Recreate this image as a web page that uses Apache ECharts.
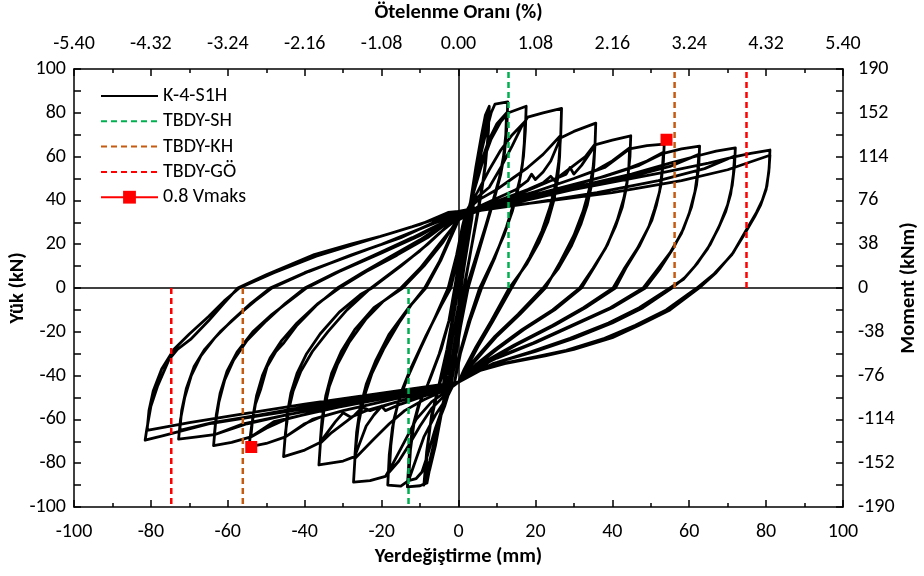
<!DOCTYPE html>
<html>
<head>
<meta charset="utf-8">
<script src="https://cdn.jsdelivr.net/npm/echarts@6/dist/echarts.min.js"></script>
<style>html,body{margin:0;padding:0;background:#fff}#c{width:924px;height:576px}</style>
</head>
<body>
<div id="c"></div>
<script>
// ---- tick labels ----
const dispTicks = ['-100','-80','-60','-40','-20','0','20','40','60','80','100'];
const driftLabels = ['-5.40','-4.32','-3.24','-2.16','-1.08','0.00','1.08','2.16','3.24','4.32','5.40'];
const loadLabels = ['-100','-80','-60','-40','-20','0','20','40','60','80','100'];
const momentLabels = ['-190','-152','-114','-76','-38','0','38','76','114','152','190'];

// ---- hysteresis cycles of K-4-S1H (displacement mm, load kN) ----
const loopA = [[0,0],[1.5,15],[3,30],[4,40],[3.5,32],[1.5,10],[0,-8],[-1.5,-22],[-3,-38],[-4,-46],[-3.5,-36],[-1.5,-14],[0,2]];
const loopB = [[1.5,20],[3,38],[4.5,55],[6,70],[7,79],[8,83],[7.8,72],[7.2,60],[6.3,48],[5,35],[3.5,20],[2,5],[0.5,-10],[-1,-25],[-2.5,-40],[-3.5,-48],[-4.5,-58],[-6,-72],[-7.5,-83],[-9,-90],[-8.3,-75],[-7.3,-62],[-5.8,-50],[-4,-38],[-2,-20],[0,0],[1.5,18],[3,36]];
const loopC = [[4.5,50],[6,64],[7,74],[7.8,80],[7.6,68],[7,56],[6,44],[4.8,32],[3.2,17],[1.6,2],[0,-14],[-1.5,-30],[-3,-45],[-4.5,-56],[-6,-68],[-7.5,-79],[-8.6,-86],[-8,-72],[-7,-58],[-5.2,-45],[-3,-28],[-1,-8],[0.5,10],[2,28],[3.5,40]];
const loopD = [[5,55],[7,70],[8.5,80],[9.5,84],[12.8,85],[12.6,74],[12,62],[11,52],[9.5,42],[7.5,30],[5,15],[2.5,0],[0.5,-18],[-1,-35],[-2,-45],[-3.6,-54],[-5.4,-62],[-7,-78],[-8.2,-89],[-10,-90.3],[-13.3,-90.8],[-12.8,-76],[-12,-64],[-10.5,-54],[-8,-44],[-5,-30],[-2.5,-15],[-1,0],[0.5,16],[2,32]];
const loopE = [[4,45],[6,58],[8,68],[10,75],[12.5,80],[12.3,70],[11.7,60],[10.6,50],[9,40],[7,28],[4.5,14],[2,0],[0,-18],[-1.5,-35],[-2.5,-46],[-4,-54],[-6,-64],[-8,-76],[-9.5,-84],[-11,-87],[-13,-88],[-12.5,-74],[-11.6,-62],[-10,-52],[-7.5,-42],[-4.5,-28],[-2,-12],[-0.5,0],[1,18],[2.5,34]];
const loopF = [[4,44],[6,56],[8.5,68],[11,76],[13,80],[17.6,83],[17.4,72],[16.9,60],[16,50],[14.6,40],[12.5,28],[9.5,14],[6,0],[3,-15],[0.5,-30],[-1,-43],[-3,-50],[-6,-58],[-9,-68],[-11,-78],[-13,-88],[-15,-90.5],[-18.4,-90],[-18,-76],[-17.2,-64],[-15.8,-53],[-13.5,-42],[-10,-28],[-6,-13],[-2.7,0],[-0.5,15],[1,28],[2,35]];
const loopG = [[5,44],[8,54],[11,63],[14,70],[17.3,76],[17.1,66],[16.6,56],[15.6,46],[14,35],[11.8,24],[8.8,12],[5.5,0],[2.5,-16],[0,-32],[-1,-43],[-3,-48],[-7,-55],[-10,-63],[-13,-72],[-15.5,-79],[-18,-84],[-17.6,-72],[-16.8,-60],[-15,-48],[-12.5,-37],[-8.5,-22],[-4.5,-8],[-2,0],[0,15],[1.5,30]];
const loopH = [[4,40],[8,46],[11,55],[14,65],[16.5,74],[18,78],[22,80],[26.8,82],[26.6,70],[26.1,58],[25.2,47],[23.8,37],[21.7,26],[18.5,14],[13.8,0],[9,-15],[5,-27],[2,-37],[0,-43],[-3,-47],[-7,-52],[-11,-60],[-14,-70],[-17,-80],[-19,-86],[-23,-88],[-27.3,-88.6],[-26.8,-74],[-26,-62],[-24.6,-50],[-22.5,-39],[-19.5,-28],[-15.5,-16],[-12,-7],[-8.8,0],[-5,12],[-2,24],[0,32]];
const loopI = [[5,40],[10,45],[14,50],[18,55],[22,61],[26.5,69.5],[26.3,60],[25.8,50],[24.8,40],[23.2,30],[21,21],[17.8,11],[13.2,0],[8.5,-15],[4.5,-27],[1.5,-37],[0,-43],[-4,-47],[-9,-51],[-14,-56],[-18,-62],[-22,-69],[-27,-78],[-26.5,-66],[-25.6,-55],[-24,-44],[-21.5,-33],[-18,-21],[-13,-9],[-8.5,0],[-4.5,13],[-1.5,25],[0,31]];
const loopJ = [[5,37],[10,41],[15,45],[18,49],[19,52],[20,49.5],[22,53],[24,58],[26.5,68.5],[30,71.5],[35.7,75.3],[35.5,65],[35,55],[34,45],[32.4,35],[30,24],[26.5,12],[22.6,0],[16,-12],[10,-22],[5,-32],[1.5,-39],[0,-43],[-5,-47],[-10,-50],[-15,-53],[-19,-56],[-20,-54],[-22,-58],[-24,-63],[-27,-77],[-30,-79],[-36.3,-80.8],[-35.8,-68],[-35,-56],[-33.6,-45],[-31.5,-35],[-28.5,-25],[-24,-14],[-19.5,-6],[-15,0],[-10,9],[-5,20],[0,31]];
const loopK = [[6,37],[12,41],[18,45],[22,48],[24,51],[25,49],[27,52],[30,56],[33,60],[35.5,65.7],[35.2,56],[34.6,47],[33.5,38],[31.8,29],[29.3,19],[26,9],[22,0],[15.5,-12],[9.5,-22],[4.5,-32],[1,-40],[0,-43],[-6,-47],[-12,-50],[-18,-53],[-23,-56],[-25,-54.5],[-27,-58],[-30,-62],[-33,-66],[-36,-71],[-35.5,-60],[-34.5,-49],[-33,-39],[-30.5,-29],[-27,-19],[-22,-9],[-14.5,0],[-9,10],[-4,21],[0,32]];
const loopL = [[8,38],[16,43],[24,49],[28,52],[29,55],[30,52],[32,56],[35.7,65.5],[40,67.5],[44.8,69.5],[44.6,60],[44,50],[43,41],[41.3,31],[38.8,20],[35.5,10],[32,0],[25,-10],[17,-19],[10,-28],[5,-35],[0,-43],[-8,-48],[-16,-52],[-24,-56],[-28,-59],[-30,-57],[-32,-61],[-36,-70.5],[-40,-74],[-45.5,-77],[-45,-66],[-44.2,-56],[-43,-47],[-41,-38],[-38,-29],[-34,-20],[-29,-10],[-22.8,0],[-16,9],[-10,17],[-5,25],[0,32]];
const loopM = [[10,38],[20,44],[30,50],[36,54],[40,58],[44.5,64],[44.3,55],[43.7,46],[42.6,37],[40.8,28],[38.2,18],[35,9],[31.5,0],[24.5,-10],[16.5,-19],[9.5,-28],[4.5,-35],[0,-43],[-10,-48],[-20,-52],[-30,-56],[-36,-59],[-40,-62],[-45,-68],[-44.6,-58],[-43.6,-48],[-42,-39],[-39.5,-30],[-36,-21],[-31,-11],[-25.5,-3],[-22.5,0],[-15,10],[-8,20],[0,33]];
const loopN = [[10,39],[20,44],[30,50],[38,55],[44.5,63.5],[49,65],[53.5,65.7],[53.3,58],[52.6,46.6],[51.5,38],[50.3,31],[47,19],[43.5,9],[40.8,0],[33,-9],[25,-17],[15,-26],[8,-33],[3,-38],[0,-43],[-10,-48],[-20,-52],[-30,-56],[-38,-60],[-45,-68],[-50,-71],[-54.5,-72.5],[-53.8,-63],[-52.8,-53],[-51.4,-46],[-49.8,-36],[-47.5,-29],[-45.4,-25],[-42,-17],[-37,-8],[-31.5,0],[-25,7],[-18,14],[-10,22],[-4,29],[0,33]];
const loopO = [[12,38],[24,44],[36,50],[44,54.5],[49,58],[53.3,62],[53,54],[52.3,44],[51,36],[49.5,28],[46.5,18],[43,8.5],[40.2,0],[32.5,-9],[24.5,-17],[14.5,-26],[7.5,-33],[0,-43],[-12,-48],[-24,-52],[-36,-56],[-45,-60],[-50,-64],[-54,-68],[-53.5,-59],[-52.5,-49],[-51,-40],[-49,-32],[-46,-24],[-42,-16],[-36.5,-7],[-31,0],[-24,7.5],[-16,15],[-8,23],[0,33.5]];
const loopP = [[12,39],[25,45],[38,51],[47,56],[53.3,61.5],[58,63.5],[62.7,64.8],[62.5,56],[61.9,47],[60.6,37],[58.5,27],[55.8,18],[52.5,9],[48.6,0],[40,-9],[30,-17],[20,-25],[10,-32],[4,-37],[0,-43],[-12,-48],[-25,-52],[-38,-57],[-48,-61],[-54,-68],[-59,-70.5],[-63.7,-72],[-63.2,-62],[-62.3,-52],[-60.8,-42],[-58.5,-33],[-55,-24],[-50,-15],[-45,-7],[-40,0],[-32,7],[-22,15],[-12,23],[0,33.5]];
const loopQ = [[15,39],[30,45],[45,51],[55,55.5],[62.5,61],[62.2,53],[61.5,44],[60,34],[58,25],[55,16],[51.5,8],[48,0],[39.5,-9],[29.5,-17],[19.5,-25],[9.5,-32],[0,-43],[-15,-48],[-30,-53],[-45,-58],[-55,-62],[-63.5,-67],[-63,-58],[-62,-48],[-60.2,-38],[-57.5,-29],[-53.5,-20],[-48.5,-12],[-44,-6],[-39.5,0],[-31,7.5],[-20,16],[-10,24],[0,34]];
const loopR = [[15,40],[30,46],[45,52],[55,57],[62.5,60.5],[67,62.5],[72,64],[71.8,56],[71.2,47],[70,38],[68,29],[65.5,20],[62,11],[59,5],[55.5,0],[48,-9],[40,-16],[30,-23],[20,-29],[10,-34],[4,-38],[0,-43],[-15,-48],[-30,-53],[-45,-58],[-56,-62],[-63.5,-67],[-68,-68],[-72.8,-69],[-72.3,-60],[-71.2,-50],[-69.5,-40],[-67,-31],[-63.5,-23],[-59,-15],[-54,-7],[-49,0],[-40,7],[-30,13.5],[-20,20],[-10,27],[0,34]];
const loopS = [[18,38.5],[36,43.5],[52,49],[64,54.5],[71.8,60.3],[71.5,52],[70.8,43],[69.5,35],[67.5,27],[64.8,18],[61.5,10],[58.5,4],[55,0],[47,-9],[39,-16],[29,-23],[19,-29],[9,-34.5],[0,-43],[-18,-48],[-36,-53],[-52,-58],[-64,-61.5],[-72.5,-65],[-72,-56],[-70.8,-46],[-68.8,-36],[-66,-28],[-62,-20],[-57,-12],[-53,-6],[-48.5,0],[-39,7.5],[-28,15],[-15,23],[0,35]];
const loopT = [[18,41],[36,47],[54,53],[65,57],[72,60],[76,61.5],[81,63],[80.8,55],[80.2,46.5],[79,40],[77.5,34.5],[75,27],[71.4,16],[67,7],[62.6,0],[55,-10],[47,-17],[40,-22.7],[30,-28],[22.5,-31],[12,-34.5],[5,-38],[0,-43],[-18,-48.5],[-36,-54],[-54,-59],[-65,-62],[-72.5,-65.5],[-77,-67.5],[-81.5,-69.5],[-81.1,-64.8],[-80,-54],[-78.3,-45],[-75.3,-32.7],[-73.1,-28],[-69.7,-23.5],[-65,-15],[-61,-7],[-57.4,0],[-50,6],[-37.5,15.3],[-28,20],[-20.3,23.6],[-10,29],[-2.7,34.5],[0,35]];
const loopU = [[20,39],[40,43.5],[58,49],[70,54],[81,60.6],[80.7,53],[80,45],[78.6,38],[77,32.5],[74.5,25],[71,15],[66.5,6.5],[62,0],[54,-10],[46,-17],[38,-23],[28,-28.5],[20,-31.5],[10,-35],[4,-38.5],[0,-43],[-20,-48],[-40,-53],[-58,-58],[-70,-61.5],[-81,-65],[-80.5,-56],[-79.4,-47],[-77.2,-37],[-74,-28],[-70,-21],[-65,-13],[-61,-6],[-57,0],[-48,7],[-37,14.5],[-25,21],[-12,28],[0,35]];

// ---- TBDY limit displacements (mm): [positive, negative] ----
const shLimits = [13.0, -13.0];
const khLimits = [56.2, -56.1];
const goLimits = [74.9, -74.7];
// ---- 0.8 Vmaks points [mm, kN] ----
const vmaksPos = [54.1, 67.7];
const vmaksNeg = [-53.9, -72.6];

const hysteresis = [].concat(loopA, loopB, loopC, loopD, loopE, loopF, loopG, loopH, loopI, loopJ, loopK, loopL, loopM, loopN, loopO, loopP, loopQ, loopR, loopS, loopT, loopU);

const FONT = "Carlito, 'Liberation Sans', sans-serif";
const chart = echarts.init(document.getElementById('c'), null, {renderer: 'canvas'});

function vLine(name, color, x, up) {
  return {
    name: name, type: 'line', xAxisIndex: 0, yAxisIndex: 0, symbol: 'none', silent: true, z: 5,
    data: up ? [[x, 0], [x, 100]] : [[x, 0], [x, -100]],
    lineStyle: {color: color, width: 2.5, type: [6, 4]}, itemStyle: {color: color}
  };
}
function marker(pt) {
  return {
    name: '0.8 Vmaks', type: 'line', xAxisIndex: 0, yAxisIndex: 0, symbol: 'rect', symbolSize: 12,
    showSymbol: true, z: 10, data: [pt],
    lineStyle: {color: '#FF0000', width: 2.5}, itemStyle: {color: '#FF0000'}
  };
}
const axisLbl = {fontFamily: FONT, fontSize: 20, color: '#000'};
const nameStyle = {fontFamily: FONT, fontSize: 20.5, fontWeight: 'bold', color: '#000'};
const axLine = {show: true, onZero: false, lineStyle: {color: '#000', width: 1.5}};
const hideSym = {opacity: 0};

chart.setOption({
  animation: false,
  backgroundColor: '#fff',
  grid: {left: 74, right: 81, top: 69, bottom: 69, containLabel: false, outerBoundsMode: 'none'},
  legend: {
    orient: 'vertical', left: 95, top: 81, itemWidth: 57, itemHeight: 16, itemGap: 5.3,
    textStyle: {fontFamily: FONT, fontSize: 20, color: '#000', lineHeight: 20},
    data: [
      {name: 'K-4-S1H', itemStyle: hideSym},
      {name: 'TBDY-SH', itemStyle: hideSym},
      {name: 'TBDY-KH', itemStyle: hideSym},
      {name: 'TBDY-GÖ', itemStyle: hideSym},
      {name: '0.8 Vmaks'}
    ]
  },
  xAxis: [{
    type: 'value', position: 'bottom', min: -100, max: 100, interval: 20,
    name: 'Yerdeğiştirme (mm)', nameLocation: 'middle', nameGap: 39, nameMoveOverlap: false, nameTextStyle: nameStyle,
    axisLine: axLine, axisTick: {show: true, inside: true, length: 7, lineStyle: {color: '#000', width: 1.5}},
    minorTick: {show: true, splitNumber: 2, length: 4, lineStyle: {color: '#000', width: 1.5}},
    splitLine: {show: false}, minorSplitLine: {show: false},
    axisLabel: Object.assign({margin: 15, formatter: (v, i) => dispTicks[i]}, axisLbl)
  }, {
    type: 'value', position: 'top', min: -100, max: 100, interval: 20,
    name: 'Ötelenme Oranı (%)', nameLocation: 'middle', nameGap: 46, nameMoveOverlap: false, nameTextStyle: nameStyle,
    axisLine: axLine, axisTick: {show: true, inside: true, length: 7, lineStyle: {color: '#000', width: 1.5}},
    minorTick: {show: true, splitNumber: 2, length: 4, lineStyle: {color: '#000', width: 1.5}},
    splitLine: {show: false},
    axisLabel: Object.assign({margin: 15, formatter: (v, i) => driftLabels[i]}, axisLbl)
  }],
  yAxis: [{
    type: 'value', position: 'left', min: -100, max: 100, interval: 20,
    name: 'Yük (kN)', nameLocation: 'middle', nameGap: 46, nameMoveOverlap: false, nameTextStyle: nameStyle,
    axisLine: axLine, axisTick: {show: true, inside: true, length: 7, lineStyle: {color: '#000', width: 1.5}},
    minorTick: {show: true, splitNumber: 2, length: 7, lineStyle: {color: '#000', width: 1.5}},
    splitLine: {show: false},
    axisLabel: Object.assign({margin: 8, formatter: (v, i) => loadLabels[i]}, axisLbl)
  }, {
    type: 'value', position: 'right', min: -100, max: 100, interval: 20,
    name: 'Moment (kNm)', nameLocation: 'middle', nameGap: 55, nameMoveOverlap: false, nameTextStyle: nameStyle,
    axisLine: axLine, axisTick: {show: true, inside: true, length: 7, lineStyle: {color: '#000', width: 1.5}},
    minorTick: {show: true, splitNumber: 2, length: 7, lineStyle: {color: '#000', width: 1.5}},
    splitLine: {show: false},
    axisLabel: Object.assign({margin: 15, formatter: (v, i) => momentLabels[i]}, axisLbl)
  }],
  series: [
    {
      name: 'K-4-S1H', type: 'line', xAxisIndex: 0, yAxisIndex: 0, symbol: 'none', silent: true, z: 3,
      data: hysteresis, lineStyle: {color: '#000', width: 2.8, join: 'round'}, itemStyle: {color: '#000'},
      markLine: {
        silent: true, symbol: 'none', label: {show: false}, animation: false,
        lineStyle: {color: '#000', width: 1.5, type: 'solid'},
        data: [{xAxis: 0}, {yAxis: 0}]
      }
    },
    vLine('TBDY-SH', '#00B050', shLimits[0], true),
    vLine('TBDY-SH', '#00B050', shLimits[1], false),
    vLine('TBDY-KH', '#C55A11', khLimits[0], true),
    vLine('TBDY-KH', '#C55A11', khLimits[1], false),
    vLine('TBDY-GÖ', '#FF0000', goLimits[0], true),
    vLine('TBDY-GÖ', '#FF0000', goLimits[1], false),
    marker(vmaksPos),
    marker(vmaksNeg)
  ]
});
</script>
</body>
</html>
